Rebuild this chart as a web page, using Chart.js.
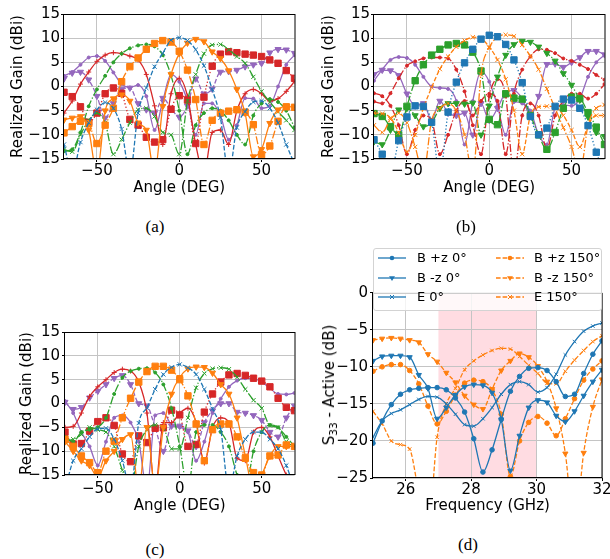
<!DOCTYPE html>
<html>
<head>
<meta charset="utf-8">
<script src="https://cdn.jsdelivr.net/npm/chart.js@4.4.1/dist/chart.umd.min.js"></script>
<style>
  html, body { margin: 0; padding: 0; background: #fff; overflow: hidden; }
  body { width: 610px; height: 559px; position: relative; }
  canvas { position: absolute; }
  .cap { position: absolute; font-family: 'Liberation Serif', serif; font-size: 17px; transform: translate(-50%, -50%); white-space: nowrap; }
  #legend { position: absolute; left: 373px; top: 248px; width: 227px; height: 61px; border: 1px solid #d3d3d3; border-radius: 3px;
            background: rgba(255,255,255,0.8); font-family: 'DejaVu Sans', sans-serif; font-size: 13px; }
  #legend div { position: absolute; line-height: 14px; white-space: nowrap; }
  #legend svg { display: block; }
  #dylab { position: absolute; left: 329px; top: 385px; transform: translate(-50%, -50%) rotate(-90deg);
           font-family: 'DejaVu Sans', sans-serif; font-size: 15px; white-space: nowrap; line-height: 18px; }
  #dylab sub { font-size: 10.5px; vertical-align: -3px; line-height: 0; }
</style>
</head>
<body>
<canvas id="ca" width="300" height="200" style="left:0;top:0"></canvas>
<canvas id="cb" width="310" height="200" style="left:300px;top:0"></canvas>
<canvas id="cc" width="300" height="200" style="left:0;top:320px"></canvas>
<canvas id="cd" width="320" height="290" style="left:300px;top:230px"></canvas>
<div id="legend"></div>
<div id="dylab">S<sub>33</sub> - Active (dB)</div>
<div class="cap" style="left:155px;top:227px">(a)</div>
<div class="cap" style="left:466px;top:227px">(b)</div>
<div class="cap" style="left:155px;top:550px">(c)</div>
<div class="cap" style="left:468px;top:545px">(d)</div>
<script>
// angle grid shared by (a)-(c), one value every 5 degrees
const angles = [-70, -65, -60, -55, -50, -45, -40, -35, -30, -25, -20, -15, -10, -5, 0, 5, 10, 15, 20, 25, 30, 35, 40, 45, 50, 55, 60, 65, 70];

// (a)
const aBlueX    = [-12, -18, -11.5, -7.5, -4.8, -3.3, -4.5, -8.8, -18, -5.5, -0.3, 4.1, 6.9, 9.6, 10.1, 9.5, 7.6, 4.3, -0.6, -6.5, -18, -8.5, -5.2, -3.2, -3.0, -4.5, -7.5, -12, -16];
const aOrangeV  = [-6.9, -6.5, -6.2, -9, -18, -5, -2.5, -1.7, -3, -7.5, -9, -18, -4.1, 2.5, 6.8, 9.0, 9.8, 9.3, 7.2, 5.8, 3.3, -0.6, -5.5, -14.5, -13, -7.6, -4.8, -4.1, -4.3];
const aOrangeSq = [-9.6, -8.3, -7.2, -7.7, -11.8, -8, -4.5, 1.0, 4.1, 5.9, 7.7, 8.9, 9.5, 9.2, 7.3, 3.4, -2.7, -12, -7, -5.5, -5.1, -4.8, -5.3, -7.9, -14.1, -12.3, -7.2, -4.2, -4.3];
const aGreenDot = [-13.4, -13, -9.5, -4.1, -0.6, 2.2, 5.0, 6.8, 7.9, 8.5, 8.7, 8.3, 6.5, 2.3, -5, -14, -8, -5.5, -4.5, -5, -7, -10, -12, -6, -3.5, -2.6, -3.2, -5, -8.5];
const aGreenX   = [-13, -13.5, -10, -7, -5.5, -7.5, -14, -11, -7.5, -4.8, -4.5, -6.2, -9.5, -10, -14, -3, 2.5, 6.8, 8.6, 8.7, 7.6, 6.2, 4.8, 2, -1, -3.2, -5.2, -7, -9];
const aRed      = [-5.5, -3, 0.5, 3, 5.2, 6.5, 7.0, 6.8, 6.3, 5.5, 2.5, -4, -12, -1.5, 1.7, -2, -12, -18, -9.5, -9, -12, -5, -1.5, -0.6, -1.5, -3, -2.5, -1, 1];
const aRedSq    = [-1.2, -2.1, -4.2, -7.4, -5.5, -1.5, -0.3, -1.4, -6.8, -8, -10.5, -11.5, -11, -4.7, -1.9, -2.8, -11.8, -2.2, 4.2, 6.7, 7.2, 7.0, 6.7, 6.5, 6.2, 5.5, 4.8, 3.3, 1.7];
const aPurple   = [2.2, 3.0, 4.5, 6.0, 6.3, 5.3, 2.9, 0.5, -0.2, 0.3, -2, -9, -3, 2.5, 1.0, -3, -10, -3.5, -3.5, -6, -11, -8, -2.4, -2.5, -4.5, -4, 0, 4.5, 6.5];
const aPurpleV  = [1.6, 2.8, 3.0, 1.4, -2, -6.5, -3.5, -0.5, -0.3, -3.5, -4.8, -5.5, -2.4, -4.5, -6.3, -4, 1.6, -1.5, -0.5, 3.0, 3.1, 3.4, 4.1, 4.5, 4.8, 7.0, 7.7, 7.6, 6.9];

// (b)
const bBlueSq   = [-11, -14, -18, -11.2, -6.3, -4.0, -4.1, -7.4, -18, -5.3, 0.9, 4.9, 7.7, 9.8, 10.6, 10.3, 8.7, 5.5, 0.8, -6.2, -10, -8.6, -4.1, -2.6, -2.8, -4.5, -8.1, -13.6, -18];
const bOrangeX1 = [-5.5, -5.6, -6.5, -9.5, -13.5, -10, -4.5, -0.2, 3.6, 6.2, 8.2, 9.5, 10.2, 9.9, 8.2, 5.5, 1.5, -5, -14, -6, -4.2, -4.1, -4.2, -6, -9, -12.5, -8, -6, -6];
const bOrangeX2 = [-8, -9.5, -6.8, -5.5, -7.5, -12.5, -18, -7, -4.5, -3.5, -5, -10, -18, 2.5, 8, 10.2, 10.7, 10.4, 8.6, 6.3, 3.5, -0.5, -4.5, -8.5, -12.5, -18, -8, -4.5, -3.8];
const bGreenSq  = [-5.6, -6.2, -8.3, -10, -4.1, 1.2, 4.5, 6.5, 7.7, 8.6, 8.9, 8.6, 7.1, 3.2, -6.8, -7.9, -1.5, -2.4, -2.6, -6, -10, -13, -9.5, -4.5, -2.2, -2.5, -5.4, -8.4, -12];
const bGreenV   = [-11.4, -12, -9, -4.8, -4.5, -6, -8.3, -7.5, -4.5, -3.5, -3.5, -3.6, -3.4, -10, -4, 2, 6.5, 8.7, 9.4, 9.2, 8.2, 6.9, 5.3, 2.7, 0.3, -2.8, -6.3, -9.5, -10.3];
const bRedL     = [-3.1, -3.5, -1.4, 1.7, 4.3, 5.2, 5.8, 6.0, 6.0, 5.8, 3.5, -1, -8, -14, -2, 1.5, -2, -18, -6, -3.5, -6, -13, -6, -3, -1.5, -1.5, -2.5, -1.5, 0.5];
const bRedR     = [-1.4, -2, -4, -8, -14, -9, -6, -7, -14, -10, -5, -3, -6, -3, -1.5, -3, -14, -1.5, 3.5, 6.2, 7.7, 7.6, 6.9, 5.8, 5.3, 4.5, 3.6, 2.4, 1.4];
const bPurple   = [1.2, 3.5, 5.5, 6.1, 5.9, 4.5, 2.0, 0, -0.3, -0.5, -3, -12, -3, 3.2, 1.0, -4, -10, -3.2, -3.5, -5, -10, -12, -4.5, -3.8, -4, -2.5, 2, 5, 6.5];
const bPurpleV  = [2.5, 3.4, 3.3, 2.3, -1.5, -4.0, -3.5, -7, -3, -5.5, -6, -5.5, -10, -3.5, -7, -4.5, -1.3, -0.8, -2.5, -6, -2, 4.6, 4.7, 4.0, 5.0, 6, 7.3, 7.3, 6.6];

// (c)
const cBlueX    = [-18, -12, -9.5, -7, -5.3, -5.2, -7.5, -12, -18, -4.1, -0.9, 3.0, 6.1, 7.6, 8.2, 7.5, 6.1, 3.0, -1.1, -5.5, -18, -11, -7.5, -6, -6, -7.5, -9.5, -13, -18];
const cOrangeSq = [-7.5, -9, -11, -12.4, -14.5, -10, -7.9, -3, 1.1, 4.5, 6.7, 7.8, 7.8, 7.0, 5.0, 1.6, -4.3, -12, -5.5, -4.3, -4.3, -7, -11.5, -14.5, -15, -11, -10.8, -8.7, -9];
const cOrangeV  = [-8, -10, -12, -13, -15.5, -12, -10, -7.5, -6.5, -18, -5, -18, -5, 2.0, 5.5, 7.3, 7.7, 7.6, 6.4, 4.0, 2.0, -3, -11, -18, -15, -11, -9, -9, -9];
const cGreenDot = [-7, -8, -6, -5.5, -5, -3, 2, 5.4, 6.8, 7.3, 7.4, 6.5, 4, -1, -9, -18, -6, -4.5, -4.5, -6, -9, -15, -18, -10, -6, -4.5, -5, -7, -9];
const cGreenX   = [-8, -7.5, -6.5, -5, -5.5, -6, -9, -14, -18, -9, -5.5, -4.5, -5, -9.5, -9.5, -3, 3.3, 6.3, 7.3, 7.5, 7.2, 5.5, 3, 0.7, -1, -4.6, -5, -8, -9];
const cRed      = [-5, -4.8, -2, 1.5, 3.5, 5.0, 6.5, 7.2, 6.8, 4.5, -2, -18, -4, -4, -2, -1, -4, -12.5, -5, -3, -4, -11.5, -12, -6, -5, -7, -11, -15, -18];
const cRedSq    = [-6, -8.5, -8.4, -5.8, -3.8, -3, -4.6, -10.6, -12.2, -6.8, -8.2, -5.2, -5.1, -1.4, -2.4, -9, -8.6, -1.8, 2.0, 4.5, 6.0, 6.3, 5.9, 5.3, 4.7, 3.5, 1.1, -0.8, -1.5];
const cPurple   = [0.5, -2, -6, -9, -13, -8, -3, -2.5, -4, -8, -18, -2.5, -2, -4.5, -5, -6, -12, -8, -2, 1, 3.5, 4.8, 5.3, 5.2, 4.5, 3.2, 2, 1.9, 2.2];
const cPurpleV  = [0.3, -1.2, -0.8, 1.2, 2.6, 4.0, 5.3, 5.9, 4, 0, -0.5, -5, -10, -4.7, -4.7, -5.7, -9, -4, -1.5, 0, 0, -1.8, -2, -2.5, -3.5, -6, -7, -3, -0.5];

// (d) active S33 vs frequency
const freqs = [25.0, 25.28, 25.56, 25.84, 26.12, 26.4, 26.68, 26.96, 27.24, 27.52, 27.8, 28.08, 28.36, 28.64, 28.92, 29.2, 29.48, 29.76, 30.04, 30.32, 30.6, 30.88, 31.16, 31.44, 31.72, 32.0];
const dBpz0   = [-20.3, -17.3, -15.1, -13.7, -13.1, -12.9, -12.8, -12.8, -13.1, -14.2, -16.1, -19.7, -24.2, -21.2, -17.1, -13.3, -11.3, -10.2, -10.1, -10.5, -12.0, -14.0, -13.7, -10.9, -8.3, -6.5];
const dBmz0   = [-9.2, -8.6, -8.5, -8.5, -8.7, -11.1, -12.9, -17.0, -15.5, -13.8, -12.7, -12.4, -12.5, -13.5, -17.1, -24.0, -19.3, -15.5, -14.5, -14.8, -16.6, -17.4, -16.0, -13.9, -12.0, -10.4];
const dE0     = [-19.5, -17.3, -16.3, -15.8, -15.1, -14.4, -14.0, -14.1, -15.0, -16.4, -17.8, -18.0, -17.0, -15.5, -13.7, -12.4, -12.0, -12.4, -13.4, -12.8, -11.0, -8.4, -6.6, -5.2, -4.5, -4.1];
const dBpz150 = [-10.6, -10.0, -9.7, -9.7, -10.5, -12.3, -15.3, -17.7, -16.0, -13.8, -12.2, -11.8, -12.0, -13.1, -16.4, -24.8, -20.0, -17.5, -16.7, -17.6, -19.3, -17.0, -14.3, -11.8, -10.3, -9.2];
const dBmz150 = [-6.4, -6.2, -6.1, -6.2, -6.4, -6.7, -8.3, -9.3, -10.8, -12.1, -13.9, -15.1, -15.7, -13.0, -10.5, -9.2, -8.2, -8.7, -9.9, -12.0, -15.6, -21.7, -32, -21.6, -15.4, -11.7];
const dE150   = [-16.0, -17.7, -20.0, -20.5, -21.1, -27, -32, -19.5, -15.0, -12.9, -10.4, -9.2, -8.4, -7.8, -7.5, -7.6, -8.6, -9.8, -10.9, -12.2, -12.3, -10.6, -9.1, -7.8, -6.6, -5.8];
const dLabels = ['B +z 0\u00b0', 'B -z 0\u00b0', 'E 0\u00b0', 'B +z 150\u00b0', 'B -z 150\u00b0', 'E 150\u00b0'];
const band = [27, 30];

const C0 = '#1f77b4', C1 = '#ff7f0e', C2 = '#2ca02c', C3 = '#d62728', C4 = '#9467bd';
const DASH = { '-': [], '--': [4.6, 2], '-.': [8, 2, 1.3, 2], ':': [1.3, 2.1] };
const MARK = {
  x: { pointStyle: 'crossRot', pointRadius: 3 },
  v: { pointStyle: 'triangle', pointRadius: 3.5, pointRotation: 180 },
  s: { pointStyle: 'rect', pointRadius: 4.5 },
  o: { pointStyle: 'circle', pointRadius: 2.3 },
  '.': { pointStyle: 'circle', pointRadius: 1.5 },
  '+': { pointStyle: 'cross', pointRadius: 2.5 }
};

Chart.defaults.font.family = "'DejaVu Sans', sans-serif";
Chart.defaults.font.size = 15;
Chart.defaults.color = '#000';

function series(xs, ys, color, ls, mk, label) {
  return Object.assign({
    label: label || '',
    data: xs.map((x, i) => ({ x: x, y: ys[i] })),
    borderColor: color,
    backgroundColor: color,
    pointBackgroundColor: color,
    pointBorderColor: color,
    borderWidth: 1.3,
    pointBorderWidth: 1,
    borderDash: DASH[ls],
    cubicInterpolationMode: 'monotone',
    fill: false
  }, MARK[mk]);
}

const minus = v => String(v).replace('-', '\u2212');

// box round the plot area, plus an optional shaded band
const frame = {
  id: 'frame',
  beforeDraw(chart, args, opts) {
    if (!opts.band) return;
    const { ctx, chartArea: a, scales: { x } } = chart;
    const x0 = x.getPixelForValue(opts.band[0]), x1 = x.getPixelForValue(opts.band[1]);
    ctx.save();
    ctx.fillStyle = 'rgba(255,192,203,0.55)';
    ctx.fillRect(x0, a.top, x1 - x0, a.bottom - a.top);
    ctx.restore();
  },
  afterDatasetsDraw(chart) {
    const { ctx, chartArea: a } = chart;
    const l = Math.round(a.left), t = Math.round(a.top), r = Math.round(a.right), b = Math.round(a.bottom);
    ctx.save();
    ctx.strokeStyle = '#000';
    ctx.lineWidth = 1;
    ctx.strokeRect(l - 0.5, t + 0.5, r - l + 0.5, b - t - 1);
    ctx.restore();
  }
};

function makeChart(id, datasets, o) {
  return new Chart(document.getElementById(id), {
    type: 'line',
    data: { datasets: datasets },
    plugins: [frame],
    options: {
      responsive: false,
      animation: false,
      events: [],
      layout: { padding: o.pad },
      plugins: { legend: { display: false }, tooltip: { enabled: false }, frame: { band: o.band } },
      scales: {
        x: {
          type: 'linear', min: o.xmin, max: o.xmax,
          ticks: { stepSize: o.xstep, includeBounds: false, callback: minus, padding: o.xtp, maxRotation: 0 },
          grid: { color: '#c4c4c4', lineWidth: 1, tickLength: 3, tickColor: '#000' },
          border: { display: false },
          title: { display: true, text: o.xtitle, padding: 0 },
          afterFit: s => { s.height = o.xh; }
        },
        y: {
          type: 'linear', min: o.ymin, max: o.ymax,
          ticks: { stepSize: 5, callback: minus, padding: o.ytp },
          grid: { color: '#c4c4c4', lineWidth: 1, tickLength: 3, tickColor: '#000' },
          border: { display: false },
          title: { display: !!o.ytitle, text: o.ytitle || '', padding: { top: o.ytitlePad, bottom: 0 } },
          afterFit: s => { s.width = o.yw; }
        }
      }
    }
  });
}

const gain = 'Realized Gain (dBi)', ang = 'Angle (DEG)';

makeChart('ca', [
  series(angles, aBlueX, C0, '--', 'x'),
  series(angles, aOrangeV, C1, '-', 'v'),
  series(angles, aOrangeSq, C1, '-.', 's'),
  series(angles, aGreenDot, C2, '-.', '.'),
  series(angles, aGreenX, C2, '-.', 'x'),
  series(angles, aRed, C3, '-', '+'),
  series(angles, aRedSq, C3, ':', 's'),
  series(angles, aPurple, C4, '-', '.'),
  series(angles, aPurpleV, C4, '--', 'v')
], { pad: { left: 0, top: 14, right: 4, bottom: 3 }, xmin: -70, xmax: 70, xstep: 50, ymin: -15, ymax: 15,
     xtitle: ang, ytitle: gain, xh: 38, yw: 64, xtp: 0, ytp: 1, ytitlePad: 9 });

makeChart('cb', [
  series(angles, bBlueSq, C0, ':', 's'),
  series(angles, bOrangeX1, C1, '--', 'x'),
  series(angles, bOrangeX2, C1, '-.', 'x'),
  series(angles, bGreenSq, C2, '-.', 's'),
  series(angles, bGreenV, C2, '-.', 'v'),
  series(angles, bRedL, C3, '-.', '.'),
  series(angles, bRedR, C3, '-.', '.'),
  series(angles, bPurple, C4, '-', '.'),
  series(angles, bPurpleV, C4, '-', 'v')
], { pad: { left: 0, top: 14, right: 3, bottom: 3 }, xmin: -70, xmax: 70, xstep: 50, ymin: -15, ymax: 15,
     xtitle: ang, ytitle: gain, xh: 38, yw: 74, xtp: 0, ytp: 1, ytitlePad: 20 });

makeChart('cc', [
  series(angles, cBlueX, C0, '--', 'x'),
  series(angles, cOrangeSq, C1, '-.', 's'),
  series(angles, cOrangeV, C1, '-', 'v'),
  series(angles, cGreenDot, C2, '-.', '.'),
  series(angles, cGreenX, C2, '-.', 'x'),
  series(angles, cRed, C3, '-', '+'),
  series(angles, cRedSq, C3, ':', 's'),
  series(angles, cPurple, C4, '-', '.'),
  series(angles, cPurpleV, C4, '--', 'v')
], { pad: { left: 0, top: 12, right: 5, bottom: 5 }, xmin: -70, xmax: 70, xstep: 50, ymin: -15, ymax: 15,
     xtitle: ang, ytitle: gain, xh: 40, yw: 65, xtp: 2, ytp: 2, ytitlePad: 18 });

const dSets = [
  [dBpz0, C0, '-', 'o'], [dBmz0, C0, '-', 'v'], [dE0, C0, '-', 'x'],
  [dBpz150, C1, '--', 'o'], [dBmz150, C1, '--', 'v'], [dE150, C1, '--', 'x']
];
makeChart('cd', dSets.map((s, i) => {
  const d = series(freqs, s[0], s[1], s[2], s[3], dLabels[i]);
  d.pointRadius = s[3] === 'v' ? 3 : (s[3] === 'x' ? 2.5 : 2.3);
  return d;
}), { pad: { left: 0, top: 62.7, right: 18, bottom: 5 }, xmin: 25, xmax: 32, xstep: 2, ymin: -25, ymax: 0,
     xtitle: 'Frequency (GHz)', ytitle: '', xh: 37, yw: 73, xtp: 0, ytp: 2, band: band });

// legend for (d): two columns, matplotlib style
function handle(color, dash, mk) {
  let m;
  if (mk === 'o') m = '<circle cx="14" cy="5" r="2.3" fill="' + color + '"/>';
  else if (mk === 'v') m = '<polygon points="11,3.2 17,3.2 14,8" fill="' + color + '"/>';
  else m = '<path d="M12,3L16,7M16,3L12,7" stroke="' + color + '" stroke-width="1"/>';
  const da = dash.length ? dash.join(' ') : 'none';
  return '<svg width="28" height="10"><line x1="0" y1="5" x2="28" y2="5" stroke="' + color +
         '" stroke-width="1.3" stroke-dasharray="' + da + '"/>' + m + '</svg>';
}
const lg = document.getElementById('legend');
const colX = [[4, 43], [122, 160]], rowY = [9.3, 28.7, 47.7];
dSets.forEach((s, i) => {
  const col = Math.floor(i / 3), row = i % 3;
  const h = document.createElement('div');
  h.style.left = colX[col][0] + 'px';
  h.style.top = (rowY[row] - 5) + 'px';
  h.innerHTML = handle(s[1], DASH[s[2]], s[3]);
  lg.appendChild(h);
  const t = document.createElement('div');
  t.style.left = colX[col][1] + 'px';
  t.style.top = (rowY[row] - 7) + 'px';
  t.textContent = dLabels[i];
  lg.appendChild(t);
});
</script>
</body>
</html>
